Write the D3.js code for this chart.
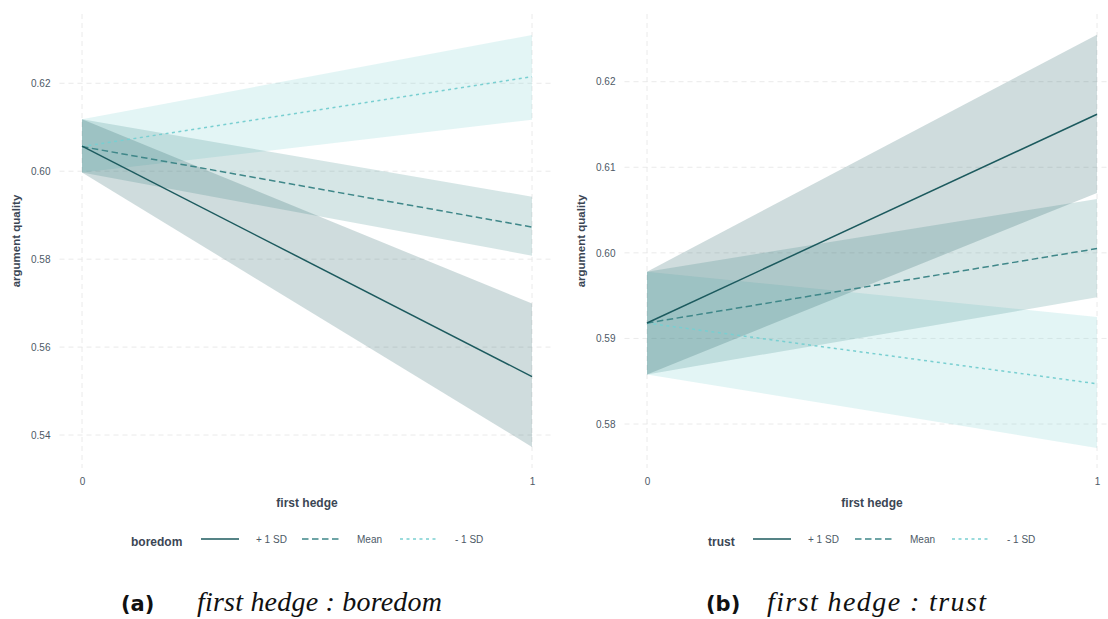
<!DOCTYPE html>
<html>
<head>
<meta charset="utf-8">
<script src="https://cdn.jsdelivr.net/npm/d3@7"></script>
<style>
  html, body { margin: 0; padding: 0; background: #fff; }
  svg { display: block; }
</style>
</head>
<body>
<svg id="chart" width="1108" height="619"></svg>
<script>
// Predicted argument quality at first hedge = 0 / 1, by moderator level
const hedge = [0, 1];
const levels = ["+ 1 SD", "Mean", "- 1 SD"];

// (a) boredom
const boredomPlusFit  = [0.6057, 0.5533];
const boredomPlusLow  = [0.5997, 0.5373];
const boredomPlusHigh = [0.6118, 0.5699];
const boredomMeanFit  = [0.6056, 0.5873];
const boredomMeanLow  = [0.5997, 0.5808];
const boredomMeanHigh = [0.6118, 0.5942];
const boredomMinusFit  = [0.6056, 0.6215];
const boredomMinusLow  = [0.5997, 0.6117];
const boredomMinusHigh = [0.6118, 0.6310];
const boredomTicks = [0.54, 0.56, 0.58, 0.60, 0.62];

// (b) trust
const trustPlusFit  = [0.5918, 0.6162];
const trustPlusLow  = [0.5858, 0.6070];
const trustPlusHigh = [0.5978, 0.6255];
const trustMeanFit  = [0.5918, 0.6005];
const trustMeanLow  = [0.5858, 0.5948];
const trustMeanHigh = [0.5978, 0.6063];
const trustMinusFit  = [0.5918, 0.5847];
const trustMinusLow  = [0.5858, 0.5772];
const trustMinusHigh = [0.5978, 0.5925];
const trustTicks = [0.58, 0.59, 0.60, 0.61, 0.62];

const xTicks = [0, 1];

const lineColors = ["#1c5a5e", "#3f8789", "#79cfd1"];
const dashes = [null, "6.5,3.5", "3,3.5"];

const svg = d3.select("#chart");
const FONT = "'Liberation Sans', Arial, sans-serif";

function series(fit, low, high) {
  return hedge.map((h, i) => ({ x: h, y: fit[i], lo: low[i], hi: high[i] }));
}

function panel(cfg) {
  const g = svg.append("g");
  const x = d3.scaleLinear().domain([-0.05, 1.05]).range([cfg.left, cfg.left + 495]);
  const y = d3.scaleLinear().domain(cfg.yDomain).range([468, 14]);

  // grid
  const grid = g.append("g").attr("stroke", "#e4e4e4").attr("stroke-width", 0.8)
    .attr("stroke-dasharray", "5,4").attr("fill", "none");
  cfg.yTicks.forEach(t => {
    grid.append("line").attr("x1", x.range()[0]).attr("x2", x.range()[1])
      .attr("y1", y(t)).attr("y2", y(t));
  });
  xTicks.forEach(t => {
    grid.append("line").attr("x1", x(t)).attr("x2", x(t))
      .attr("y1", y.range()[1]).attr("y2", y.range()[0]);
  });

  // confidence ribbons
  const area = d3.area().x(d => x(d.x)).y0(d => y(d.lo)).y1(d => y(d.hi));
  const order = [2, 1, 0];
  order.forEach(i => {
    g.append("path").datum(cfg.data[i]).attr("d", area)
      .attr("fill", lineColors[i]).attr("fill-opacity", 0.21);
  });

  // fitted lines
  const line = d3.line().x(d => x(d.x)).y(d => y(d.y));
  order.forEach(i => {
    g.append("path").datum(cfg.data[i]).attr("d", line)
      .attr("fill", "none").attr("stroke", lineColors[i]).attr("stroke-width", 1.5)
      .attr("stroke-dasharray", dashes[i]);
  });

  // axes
  const yAxis = d3.axisLeft(y).tickValues(cfg.yTicks).tickSize(0).tickPadding(9)
    .tickFormat(d3.format(".2f"));
  const ya = g.append("g").attr("transform", `translate(${x.range()[0]},0)`).call(yAxis);
  ya.select(".domain").remove();
  ya.selectAll("text").attr("fill", "#4d5966").style("font-family", FONT).style("font-size", "10px");

  const xAxis = d3.axisBottom(x).tickValues(xTicks).tickSize(0).tickPadding(10)
    .tickFormat(d3.format("d"));
  const xa = g.append("g").attr("transform", `translate(0,${y.range()[0]})`).call(xAxis);
  xa.select(".domain").remove();
  xa.selectAll("text").attr("fill", "#4d5966").style("font-family", FONT).style("font-size", "10px");

  // titles
  g.append("text").attr("x", (x(0) + x(1)) / 2).attr("y", 507)
    .attr("text-anchor", "middle").attr("fill", "#3b4654")
    .style("font-family", FONT).style("font-weight", "bold").style("font-size", "12px")
    .text("first hedge");
  g.append("text").attr("transform", `translate(${cfg.left - 40},241) rotate(-90)`)
    .attr("text-anchor", "middle").attr("fill", "#3b4654")
    .style("font-family", FONT).style("font-weight", "bold").style("font-size", "11.5px")
    .text("argument quality");

  // legend
  const lg = g.append("g").attr("transform", "translate(0,539)");
  lg.append("text").attr("x", cfg.legend.title).attr("y", 7)
    .attr("fill", "#3b4654").style("font-family", FONT).style("font-weight", "bold")
    .style("font-size", "12px").text(cfg.name);
  levels.forEach((lab, i) => {
    const lx = cfg.legend.keys[i];
    lg.append("line").attr("x1", lx).attr("x2", lx + 38).attr("y1", 0).attr("y2", 0)
      .attr("stroke", lineColors[i]).attr("stroke-width", 1.5)
      .attr("stroke-dasharray", dashes[i]);
    lg.append("text").attr("x", lx + 55).attr("y", 3.5)
      .attr("fill", "#4d5966").style("font-family", FONT).style("font-size", "10px")
      .text(lab);
  });

  // caption
  svg.append("text").attr("x", cfg.caption.x).attr("y", 611)
    .style("font-family", "'DejaVu Sans', sans-serif")
    .style("font-weight", "bold").style("font-size", "21px").attr("fill", "#111")
    .text(cfg.caption.tag);
  svg.append("text").attr("x", cfg.caption.textX).attr("y", 611)
    .style("font-family", "'Liberation Serif', 'DejaVu Serif', serif")
    .style("font-style", "italic").style("font-size", "28px").attr("fill", "#111")
    .attr("textLength", cfg.caption.width).attr("lengthAdjust", "spacing")
    .text(cfg.caption.text);
}

panel({
  name: "boredom",
  left: 59.5,
  yDomain: [0.5325, 0.63576],
  yTicks: boredomTicks,
  data: [
    series(boredomPlusFit, boredomPlusLow, boredomPlusHigh),
    series(boredomMeanFit, boredomMeanLow, boredomMeanHigh),
    series(boredomMinusFit, boredomMinusLow, boredomMinusHigh)
  ],
  legend: { title: 131, keys: [201, 302, 400] },
  caption: { x: 121, textX: 197, tag: "(a)", text: "first hedge : boredom", width: 245 }
});

panel({
  name: "trust",
  left: 624.5,
  yDomain: [0.57486, 0.62791],
  yTicks: trustTicks,
  data: [
    series(trustPlusFit, trustPlusLow, trustPlusHigh),
    series(trustMeanFit, trustMeanLow, trustMeanHigh),
    series(trustMinusFit, trustMinusLow, trustMinusHigh)
  ],
  legend: { title: 708, keys: [753, 855, 952] },
  caption: { x: 706, textX: 767, tag: "(b)", text: "first hedge : trust", width: 219 }
});
</script>
</body>
</html>
